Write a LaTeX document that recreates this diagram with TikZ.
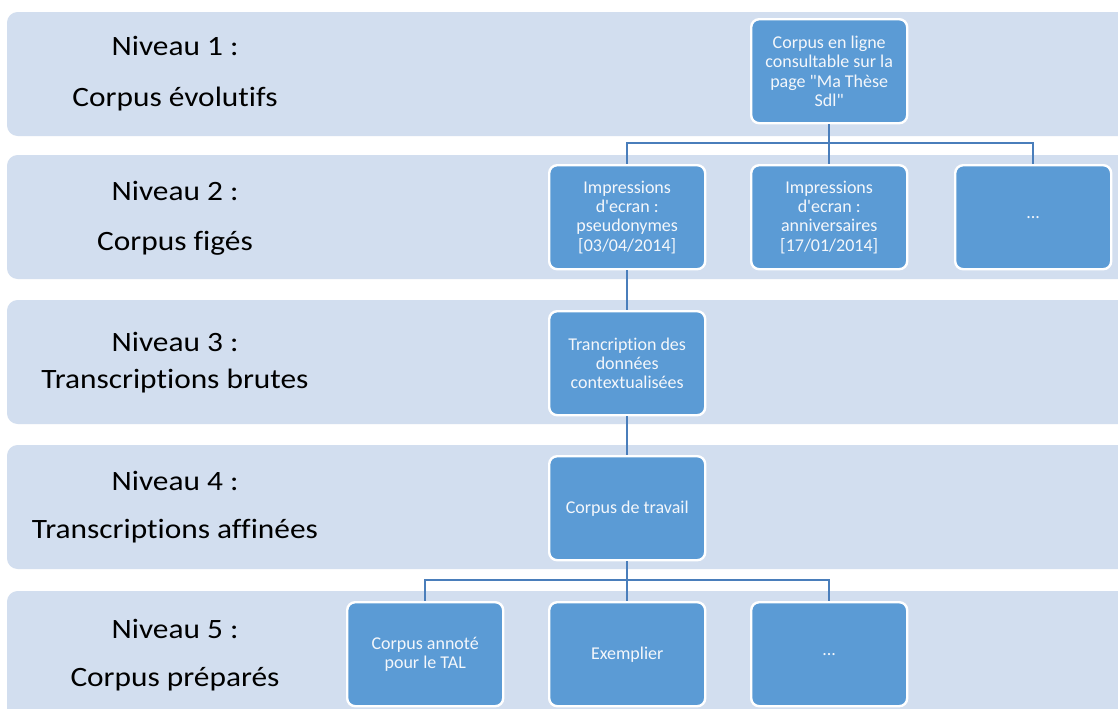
\documentclass[tikz,border=0pt]{standalone}
\usepackage{fontspec}
\setmainfont{Carlito}[Ligatures={TeXOff,NoCommon}]
\newfontfamily\bigfont[FakeStretch=1.12,Ligatures={TeXOff,NoCommon}]{Carlito}
\definecolor{bandfill}{HTML}{D2DEEF}
\definecolor{boxfill}{HTML}{5B9BD5}
\definecolor{linkcol}{HTML}{4A7EBB}
\definecolor{boxtext}{HTML}{F4F7FB}
\begin{document}
\begin{tikzpicture}[x=0.75pt,y=-0.75pt,
  band/.style={fill=bandfill,draw=none,rounded corners=8pt},
  lvl/.style={font=\bigfont\fontsize{21}{24}\selectfont,text=black,anchor=mid},
  box/.style={draw=white,line width=1.8pt,fill=boxfill,rounded corners=6pt,
    minimum width=156*0.75pt,minimum height=104*0.75pt,inner sep=2pt,
    align=center,text=boxtext,font=\fontsize{13.5}{14.5}\selectfont,anchor=north west},
  link/.style={draw=linkcol,line width=1.8pt}]
\useasboundingbox (0,0) rectangle (1118,708);
\clip (0,0) rectangle (1118,708);
\fill[white] (0,0) rectangle (1118,708);
% bands
\path[band] (7,12) rectangle (1135,136);
\path[band] (7,155) rectangle (1135,279);
\path[band] (7,300) rectangle (1135,424);
\path[band] (7,445) rectangle (1135,569);
\path[band] (7,591) rectangle (1135,730);
% level labels
\node[lvl] (n1) at (175,52) {Niveau 1 :};
\node[lvl] (c1) at (175,103) {Corpus évolutifs};
\node[lvl] (n2) at (175,197) {Niveau 2 :};
\node[lvl] (c2) at (175,247) {Corpus figés};
\node[lvl] (n3) at (175,348) {Niveau 3 :};
\node[lvl] (c3) at (175,385) {Transcriptions brutes};
\node[lvl] (n4) at (175,487) {Niveau 4 :};
\node[lvl] (c4) at (175,535) {Transcriptions affinées};
\node[lvl] (n5) at (175,635) {Niveau 5 :};
\node[lvl] (c5) at (175,683) {Corpus préparés};
% boxes
\node[box] (b1) at (750,18) {Corpus en ligne\\consultable sur la\\page "Ma Thèse\\Sdl"};
\node[box] (b2a) at (548,164) {Impressions\\d'ecran :\\pseudonymes\\{[03/04/2014]}};
\node[box] (b2b) at (750,164) {Impressions\\d'ecran :\\anniversaires\\{[17/01/2014]}};
\node[box] (b2c) at (954,164) {...};
\node[box] (b3) at (548,310) {Trancription des\\données\\contextualisées};
\node[box] (b4) at (548,455) {Corpus de travail};
\node[box] (b5a) at (346,601) {Corpus annoté\\pour le TAL};
\node[box] (b5b) at (548,601) {Exemplier};
\node[box] (b5c) at (750,601) {...};
% connectors
\coordinate (j1) at (b1.south |- 0,143);
\coordinate (j5) at (b4.south |- 0,580);
\draw[link] (b1.south) -- (j1);
\draw[link] (j1) -| (b2a.north);
\draw[link] (j1) -- (b2b.north);
\draw[link] (j1) -| (b2c.north);
\draw[link] (b2a.south) -- (b3.north);
\draw[link] (b3.south) -- (b4.north);
\draw[link] (b4.south) -- (j5);
\draw[link] (j5) -| (b5a.north);
\draw[link] (j5) -- (b5b.north);
\draw[link] (j5) -| (b5c.north);
\end{tikzpicture}
\end{document}
